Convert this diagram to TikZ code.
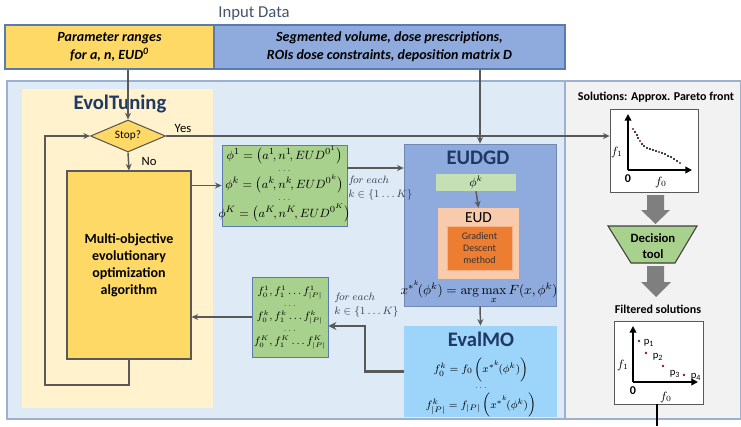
\documentclass[tikz,border=0pt]{standalone}
\usepackage[no-math]{fontspec}
\setmainfont{Carlito}
\usetikzlibrary{shapes.geometric,arrows.meta,calc}
\definecolor{inyellow}{HTML}{FFD966}
\definecolor{inblue}{HTML}{8FAADC}
\definecolor{panelblue}{HTML}{DEEBF7}
\definecolor{panelgray}{HTML}{F2F2F2}
\definecolor{evolbg}{HTML}{FFF2CC}
\definecolor{boxgreen}{HTML}{A9D18E}
\definecolor{lightgreen}{HTML}{C5E0B4}
\definecolor{peach}{HTML}{F8CBAD}
\definecolor{orangeb}{HTML}{ED7D31}
\definecolor{skyb}{HTML}{9DD5FA}
\definecolor{navy}{HTML}{203864}
\definecolor{slate}{HTML}{44546A}
\definecolor{linegray}{HTML}{595959}
\definecolor{arrgray}{HTML}{7F7F7F}
\definecolor{bordblue}{HTML}{5A7BAF}
\definecolor{dotred}{HTML}{8B1A1A}
\begin{document}
\begin{tikzpicture}[x=0.75pt,y=-0.75pt,
  arr/.style={draw=linegray, line width=1.1pt, -{Stealth[length=5pt,width=4.5pt]}},
  thickarr/.style={draw=linegray, line width=2pt, -{Stealth[length=6pt,width=6pt]}},
  rbox/.style={rectangle, inner sep=0pt, align=center},
  ttl/.style={font=\fontsize{15.5}{18}\selectfont\bfseries, text=navy, inner sep=0pt},
  axis/.style={draw=black, line width=1.5pt, -{Triangle[length=5pt,width=5pt]}},
  bdot/.style={fill=black},
  rdot/.style={fill=dotred},
  plotbox/.style={rbox, draw=linegray, line width=0.6pt, fill=white},
  phirow/.style={inner sep=0pt, text height=7.5pt, text depth=2.5pt, font=\fontsize{9.5}{11}\selectfont},
  frow/.style={inner sep=0pt, text height=5.5pt, text depth=2pt, font=\fontsize{7.8}{9}\selectfont},
  dotrow/.style={inner sep=0pt, text height=1.5pt, text depth=0pt, font=\fontsize{6}{7}\selectfont},
  erow/.style={inner sep=0pt, text height=7.5pt, text depth=3pt, font=\fontsize{8.5}{10}\selectfont},
  foreach/.style={anchor=west, align=left, font=\fontsize{8.5}{10.5}\selectfont, text=slate!80!black, inner sep=0pt}
]
\useasboundingbox (0,0) rectangle (741,426);
% backgrounds
\fill[white] (0,0) rectangle (741,426);
\draw[fill=panelblue, draw=bordblue!60, line width=0.8pt] (7,81) rectangle (565,419);
\draw[fill=panelgray, draw=bordblue!60, line width=0.8pt] (565,81) rectangle (741,419);
\fill[evolbg] (22,89) rectangle (213,408);

% input data
\node[font=\fontsize{12.5}{15}\selectfont, text=slate] (title) at (254,13) {Input Data};
\node[rbox, fill=inyellow, draw=bordblue, line width=0.8pt, minimum width=156.75pt, minimum height=33pt,
  font=\fontsize{10.5}{13.5}\selectfont\bfseries\itshape] (inpY) at (109.5,47)
  {Parameter ranges\\ for a, n, EUD\textsuperscript{0}};
\node[rbox, fill=inblue, draw=bordblue, line width=0.8pt, minimum width=263.25pt, minimum height=33pt,
  font=\fontsize{10.5}{13.5}\selectfont\bfseries\itshape] (inpB) at (389.5,47)
  {Segmented volume, dose prescriptions,\\ ROIs dose constraints, deposition matrix D};

% EvolTuning
\node[ttl] (evt) at (120,104) {EvolTuning};
\node[diamond, aspect=2.34, inner sep=0pt, minimum width=56.25pt, minimum height=24pt,
  fill=inyellow, draw=linegray, line width=0.8pt, font=\fontsize{8.5}{10}\selectfont] (stop) at (128,136) {Stop?};
\node[font=\fontsize{9.5}{11}\selectfont] (yes) at (183,128) {Yes};
\node[font=\fontsize{9.5}{11}\selectfont] (no) at (149,161) {No};
\node[rbox, fill=inyellow, draw=linegray, line width=0.8pt, minimum width=93pt, minimum height=141pt,
  font=\fontsize{10.5}{12.8}\selectfont\bfseries] (moo) at (129,265)
  {Multi-objective\\ evolutionary\\ optimization\\ algorithm};

% phi box
\node[rbox, fill=boxgreen, draw=bordblue, line width=0.6pt, minimum width=93.75pt, minimum height=60.75pt] (phi) at (284.5,185.5) {};
\node[phirow] (phi1) at (284.5,156) {$\phi^1=\bigl(a^1\!,n^1\!,EUD^{0^1}\bigr)$};
\node[dotrow] (phid1) at (284.5,170.5) {$\dots$};
\node[phirow] (phi2) at (284.5,185) {$\phi^k=\bigl(a^k\!,n^k\!,EUD^{0^k}\bigr)$};
\node[dotrow] (phid2) at (284.5,199.5) {$\dots$};
\node[phirow] (phi3) at (284.5,214) {$\phi^K=\bigl(a^K\!,n^K\!,EUD^{0^K}\bigr)$};

% f box
\node[rbox, fill=boxgreen, draw=bordblue, line width=0.6pt, minimum width=57pt, minimum height=60pt] (fbox) at (290,317) {};
\node[frow] (f1) at (290,292) {$f_0^1, f_1^1 \dots f_{|P|}^1$};
\node[dotrow] (fd1) at (290,305) {$\dots$};
\node[frow] (f2) at (290,317) {$f_0^k, f_1^k \dots f_{|P|}^k$};
\node[dotrow] (fd2) at (290,330) {$\dots$};
\node[frow] (f3) at (290,342) {$f_0^K, f_1^K \dots f_{|P|}^K$};

% EUDGD
\node[rbox, fill=inblue, draw=inblue!80!black, line width=0.4pt, minimum width=114pt, minimum height=121.5pt] (eudgd) at (480,225) {};
\node[ttl] (eudgdt) at (478,158) {EUDGD};
\node[rbox, fill=lightgreen, minimum width=60pt, minimum height=12.75pt, font=\fontsize{9}{10}\selectfont] (phik) at (476,182.5) {$\phi^k$};
\node[rbox, fill=peach, minimum width=60.75pt, minimum height=53.25pt] (eud) at (478.5,243.5) {};
\node[font=\fontsize{11.5}{13}\selectfont, inner sep=0pt] (eudt) at (478.5,218) {EUD};
\node[rbox, fill=orangeb, draw=peach!70!orangeb, line width=0.5pt, minimum width=48.75pt, minimum height=33pt,
  font=\fontsize{7.5}{9}\selectfont, text=black!80] (gd) at (479.5,248) {Gradient\\ Descent\\ method};
\node[font=\fontsize{10}{12}\selectfont, inner sep=0pt] (argmax) at (479,292)
  {$x^{*^k}\!(\phi^k)=\arg\max\limits_{x} F(x,\phi^k)$};

\node[foreach] (fe1) at (348,188) {$f\!or\ each$\\ $k\in\{1\ldots K\}$};
\node[foreach] (fe2) at (334,305) {$f\!or\ each$\\ $k\in\{1\ldots K\}$};

% EvalMO
\node[rbox, fill=skyb, minimum width=114.75pt, minimum height=68.25pt] (evalmo) at (480.5,371.5) {};
\node[ttl] (evalmot) at (481,339) {EvalMO};
\node[erow] (ev1t) at (481,369.5) {$f_0^k=f_0\left(x^{*^k}\!(\phi^k)\right)$};
\node[dotrow] (evd) at (481,387) {$\dots$};
\node[erow] (ev2t) at (481,405) {$f_{|P|}^k=f_{|P|}\left(x^{*^k}\!(\phi^k)\right)$};

% right panel
\node[font=\fontsize{9}{11}\selectfont\bfseries] (soltitle) at (656,97) {Solutions: Approx. Pareto front};
\node[plotbox, minimum width=66pt, minimum height=62.25pt] (pareto) at (654,150.5) {};
\draw[axis] (628,170) -- (628,114);
\draw[axis] (628,170) -- (692,170);
\node[font=\fontsize{9}{10}\selectfont] (pf1) at (617,152) {$f_1$};
\node[font=\fontsize{9}{10}\selectfont\bfseries] (p0) at (628,179) {0};
\node[font=\fontsize{9}{10}\selectfont] (pf0) at (661,182) {$f_0$};
\foreach \px/\py/\st in {633/129/rdot,635/132/bdot,637/135/bdot,638/138/bdot,640/141/rdot,642/144/bdot,
  644/146/bdot,647/148/bdot,650/149/bdot,653/150/bdot,656/151/bdot,659/152/rdot,662/153/bdot,
  665/154/bdot,668/156/bdot,671/157/bdot,674/159/bdot,677/161/bdot,680/163/rdot}
  \fill[\st] (\px,\py) circle (0.9pt);

\fill[arrgray] (647,195) -- (664,195) -- (664,210) -- (670,210) -- (655.5,224) -- (641,210) -- (647,210) -- cycle;
\draw[fill=boxgreen, draw=black!75, line width=0.8pt] (608,226) -- (697,226) -- (675,263) -- (631,263) -- cycle;
\node[align=center, font=\fontsize{9.5}{12}\selectfont\bfseries] (dec) at (653,246) {Decision\\ tool};
\fill[arrgray] (647,266) -- (664,266) -- (664,282) -- (671,282) -- (656,297) -- (641,282) -- (647,282) -- cycle;

\node[font=\fontsize{9}{11}\selectfont\bfseries] (filtt) at (658,309) {Filtered solutions};
\node[plotbox, minimum width=66.75pt, minimum height=62.25pt] (filt) at (658.5,362.5) {};
\draw[axis] (633,382) -- (633,326);
\draw[axis] (633,382) -- (698,382);
\node[font=\fontsize{9}{10}\selectfont] (ff1) at (623,365) {$f_1$};
\node[font=\fontsize{9}{10}\selectfont\bfseries] (f0z) at (633,391) {0};
\node[font=\fontsize{9}{10}\selectfont] (ff0) at (666,397) {$f_0$};
\fill[dotred] (639,341) circle (1pt);
\fill[dotred] (646,353) circle (1pt);
\fill[dotred] (663,366) circle (1pt);
\fill[dotred] (684,375) circle (1pt);
\node[font=\fontsize{8}{9}\selectfont, inner sep=0pt] (lp1) at (649,343) {p\textsubscript{1}};
\node[font=\fontsize{8}{9}\selectfont, inner sep=0pt] (lp2) at (658,357) {p\textsubscript{2}};
\node[font=\fontsize{8}{9}\selectfont, inner sep=0pt] (lp3) at (675,374) {p\textsubscript{3}};
\node[font=\fontsize{8}{9}\selectfont, inner sep=0pt] (lp4) at (696,377) {p\textsubscript{4}};
\coordinate (outb) at (657,426);
\draw[black, line width=1pt] (filt.south -| outb) -- (outb);

% connectors
\draw[arr] (stop.north |- inpY.south) -- (stop.north);
\draw[arr] (eudgd.north |- inpB.south) -- (eudgd.north);
\draw[arr] (stop.east) -- (pareto.west |- stop.east);
\draw[arr] (stop.south) -- (moo.north);
\coordinate (lb1) at (129,385);
\coordinate (lb2) at (45,385);
\coordinate (lb3) at (45,136);
\draw[arr] (moo.south) -- (lb1) -- (lb2) -- (lb3) -- (stop.west);
\draw[arr] (moo.east |- phi.west) -- (phi.west);
\coordinate (pe) at (347,168);
\draw[arr] (pe) -- (eudgd.west |- pe);
\draw[arr] (phik.south) -- (eud.north);
\draw[arr] (eudgd.south) -- (evalmo.north);
\coordinate (ev1) at (365,371.5);
\coordinate (ev2) at (365,326);
\draw[thickarr] (evalmo.west) -- (ev1) -- (ev2) -- (fbox.east |- ev2);
\draw[arr] (fbox.west) -- (moo.east |- fbox.west);
\end{tikzpicture}
\end{document}
